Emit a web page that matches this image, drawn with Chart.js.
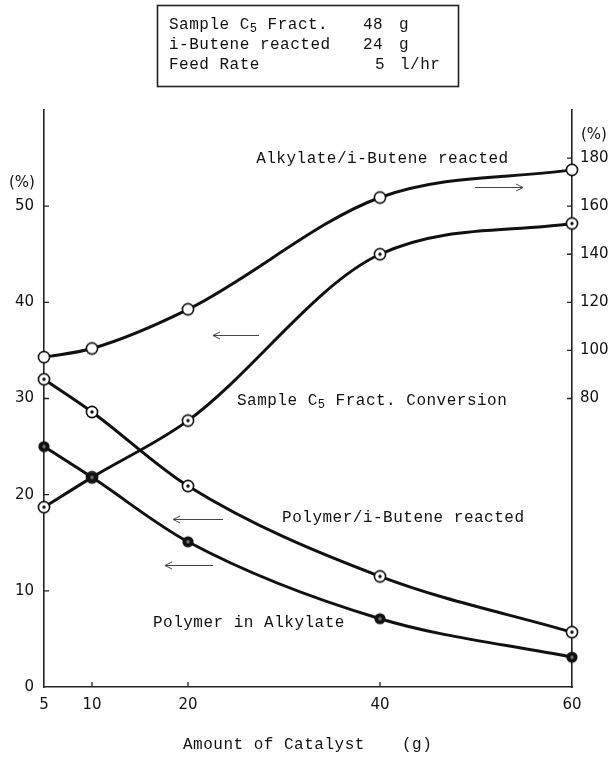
<!DOCTYPE html>
<html>
<head>
<meta charset="utf-8">
<script src="https://cdn.jsdelivr.net/npm/chart.js@4/dist/chart.umd.min.js"></script>
<style>
  html, body { margin: 0; padding: 0; background: #fff; }
  canvas { display: block; }
</style>
</head>
<body>
<canvas id="myChart" width="611" height="758"></canvas>
<script>
// amount of catalyst (g)
const catalyst = [5, 10, 20, 40, 60];
// right axis (%)
const alkylateRatio = [97.2, 100.8, 117.1, 163.6, 175.1];
// left axis (%)
const c5Conversion = [18.7, 21.8, 27.7, 45.0, 48.2];
const polymerRatio = [32.0, 28.6, 20.9, 11.5, 5.7];
const polymerInAlkylate = [25.0, 21.8, 15.1, 7.1, 3.1];

const xTicks = [5, 10, 20, 40, 60];
const leftTicks = [0, 10, 20, 30, 40, 50];
const rightTicks = [80, 100, 120, 140, 160, 180];

const MONO = '"Liberation Mono", "DejaVu Sans Mono", monospace';
const NUM = '"DejaVu Sans", sans-serif';

function marker(kind) {
    let c = document.createElement('canvas');
    c.width = 16; c.height = 16;
    let g = c.getContext('2d');
    g.beginPath();
    g.arc(8, 8, 5.6, 0, Math.PI * 2);
    if (kind === 'filled') {
        g.fillStyle = '#111';
        g.fill();
        g.beginPath();
        g.arc(8, 8, 1.7, 0, Math.PI * 2);
        g.fillStyle = '#777';
        g.fill();
    } else {
        g.fillStyle = '#fff';
        g.fill();
        g.lineWidth = 1.6;
        g.strokeStyle = '#111';
        g.stroke();
        if (kind === 'dot') {
            g.beginPath();
            g.arc(8, 8, 1.7, 0, Math.PI * 2);
            g.fillStyle = '#111';
            g.fill();
        }
    }
    return c;
}

function pairs(vals) {
    return catalyst.map((x, i) => ({ x: x, y: vals[i] }));
}

function series(label, vals, kind, axis, order) {
    return {
        label: label,
        data: pairs(vals),
        yAxisID: axis,
        borderColor: '#111',
        borderWidth: 3,
        pointStyle: marker(kind),
        pointRadius: 7,
        cubicInterpolationMode: 'monotone',
        fill: false,
        clip: false,
        order: order
    };
}

// labels and arrows, placed in data units of x / left y
const notes = [
    { parts: [{ t: 'Alkylate/i-Butene reacted' }], x: 27.1, y: 54.9 },
    { parts: [{ t: 'Sample C' }, { t: '5', sub: true }, { t: ' Fract. Conversion' }], x: 25.1, y: 29.8 },
    { parts: [{ t: 'Polymer/i-Butene reacted' }], x: 29.8, y: 17.6 },
    { parts: [{ t: 'Polymer in Alkylate' }], x: 16.35, y: 6.7 }
];
const arrows = [
    { from: 49.9, to: 54.9, y: 52.0 },
    { from: 27.4, to: 22.6, y: 36.6 },
    { from: 23.65, to: 18.45, y: 17.5 },
    { from: 22.6, to: 17.6, y: 12.7 }
];

function drawRich(ctx, parts, x, y) {
    let cx = x;
    for (const p of parts) {
        ctx.font = (p.sub ? '12px ' : '16px ') + MONO;
        ctx.fillText(p.t, cx, y + (p.sub ? 4 : 0));
        cx += ctx.measureText(p.t).width;
    }
}

const extras = {
    id: 'extras',
    afterDraw(chart) {
        let ctx = chart.ctx;
        let xs = chart.scales.x, ys = chart.scales.y, ys1 = chart.scales.y1;
        let a = chart.chartArea;
        ctx.save();
        // inward tick marks
        ctx.strokeStyle = '#222';
        ctx.lineWidth = 1.3;
        ctx.beginPath();
        xTicks.slice(1, -1).forEach((v) => {
            let px = xs.getPixelForValue(v);
            ctx.moveTo(px, a.bottom); ctx.lineTo(px, a.bottom - 5);
        });
        leftTicks.slice(1).forEach((v) => {
            let py = ys.getPixelForValue(v);
            ctx.moveTo(a.left, py); ctx.lineTo(a.left + 5, py);
        });
        rightTicks.forEach((v) => {
            let py = ys1.getPixelForValue(v);
            ctx.moveTo(a.right - 5, py); ctx.lineTo(a.right, py);
        });
        ctx.stroke();

        // arrows
        ctx.strokeStyle = '#444';
        ctx.lineWidth = 1;
        arrows.forEach((ar) => {
            let x1 = xs.getPixelForValue(ar.from), x2 = xs.getPixelForValue(ar.to);
            let py = Math.round(ys.getPixelForValue(ar.y)) + 0.5;
            let dir = x2 > x1 ? -1 : 1;
            ctx.beginPath();
            ctx.moveTo(x1, py); ctx.lineTo(x2, py);
            ctx.moveTo(x2 + dir * 7, py - 3.5); ctx.lineTo(x2, py); ctx.lineTo(x2 + dir * 7, py + 3.5);
            ctx.stroke();
        });

        // curve labels
        ctx.fillStyle = '#111';
        ctx.textBaseline = 'middle';
        ctx.textAlign = 'left';
        ctx.letterSpacing = '0.5px';
        notes.forEach((n) => {
            drawRich(ctx, n.parts, xs.getPixelForValue(n.x), ys.getPixelForValue(n.y));
        });

        // conditions box
        ctx.lineWidth = 1.6;
        ctx.strokeStyle = '#222';
        ctx.strokeRect(157.5, 5.5, 301, 81);
        drawRich(ctx, [{ t: 'Sample C' }, { t: '5', sub: true }, { t: ' Fract.' }], 169, 25);
        drawRich(ctx, [{ t: 'i-Butene reacted' }], 169, 45);
        drawRich(ctx, [{ t: 'Feed Rate' }], 169, 65);
        drawRich(ctx, [{ t: '48' }], 363, 25);
        drawRich(ctx, [{ t: 'g' }], 399, 25);
        drawRich(ctx, [{ t: '24' }], 363, 45);
        drawRich(ctx, [{ t: 'g' }], 399, 45);
        drawRich(ctx, [{ t: '5' }], 375, 65);
        drawRich(ctx, [{ t: 'l/hr' }], 400, 65);

        // axis title
        drawRich(ctx, [{ t: 'Amount of Catalyst' }], 183, 745);
        drawRich(ctx, [{ t: '(g)' }], 402, 745);

        // unit marks
        ctx.letterSpacing = '0px';
        ctx.font = '15px ' + NUM;
        ctx.fillText('(%)', 9, 183);
        ctx.fillText('(%)', 581, 135);
        ctx.restore();
    }
};

function fixTicks(list) {
    return (scale) => { scale.ticks = list.map((v) => ({ value: v })); };
}

let config = {
    type: 'line',
    data: {
        datasets: [
            series('Polymer in Alkylate', polymerInAlkylate, 'filled', 'y', 1),
            series('Sample C5 Fract. Conversion', c5Conversion, 'dot', 'y', 2),
            series('Polymer/i-Butene reacted', polymerRatio, 'dot', 'y', 3),
            series('Alkylate/i-Butene reacted', alkylateRatio, 'open', 'y1', 4)
        ]
    },
    options: {
        responsive: false,
        animation: false,
        events: [],
        layout: { padding: { top: 110, left: 0, right: 0, bottom: 0 } },
        plugins: {
            legend: { display: false },
            tooltip: { enabled: false }
        },
        scales: {
            x: {
                type: 'linear',
                min: 5,
                max: 60,
                afterBuildTicks: fixTicks(xTicks),
                afterFit: (s) => { s.height = 71; },
                grid: { drawOnChartArea: false, drawTicks: false },
                border: { color: '#222', width: 1.6 },
                ticks: { padding: 9, color: '#111', font: { family: NUM, size: 15 } }
            },
            y: {
                type: 'linear',
                position: 'left',
                min: 0,
                max: 60,
                afterBuildTicks: fixTicks(leftTicks),
                afterFit: (s) => { s.width = 44; },
                grid: { drawOnChartArea: false, drawTicks: false },
                border: { color: '#222', width: 1.6 },
                ticks: { padding: 10, color: '#111', font: { family: NUM, size: 15 } }
            },
            y1: {
                type: 'linear',
                position: 'right',
                min: -40,
                max: 200,
                afterBuildTicks: fixTicks(rightTicks),
                afterFit: (s) => { s.width = 39; },
                grid: { drawOnChartArea: false, drawTicks: false },
                border: { color: '#222', width: 1.6 },
                ticks: { padding: 8, color: '#111', font: { family: NUM, size: 15 } }
            }
        }
    },
    plugins: [extras]
};

let ctx = document.getElementById('myChart').getContext('2d');
var myChart = new Chart(ctx, config);
</script>
</body>
</html>
